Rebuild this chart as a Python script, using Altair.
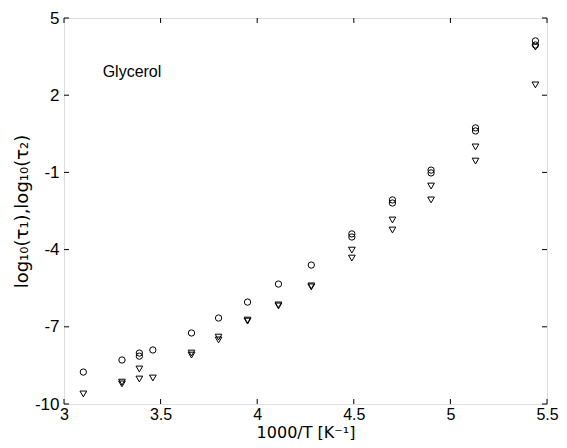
import altair as alt
import pandas as pd

# tau1 (circles)
circle_x = [3.10, 3.30, 3.39, 3.39, 3.46, 3.66, 3.80, 3.95, 4.11, 4.28, 4.49, 4.49, 4.70, 4.70, 4.90, 4.90, 5.13, 5.13, 5.44, 5.44]
circle_y = [-8.76, -8.29, -8.02, -8.14, -7.90, -7.24, -6.66, -6.04, -5.34, -4.60, -3.39, -3.51, -2.07, -2.19, -0.91, -1.02, 0.73, 0.61, 4.11, 3.95]
# tau2 (triangles)
tri_x = [3.10, 3.30, 3.30, 3.39, 3.39, 3.46, 3.66, 3.66, 3.80, 3.80, 3.95, 3.95, 4.11, 4.11, 4.28, 4.28, 4.49, 4.49, 4.70, 4.70, 4.90, 4.90, 5.13, 5.13, 5.44, 5.44]
tri_y = [-9.61, -9.15, -9.22, -8.64, -9.03, -8.99, -8.02, -8.10, -7.40, -7.51, -6.74, -6.78, -6.15, -6.19, -5.41, -5.45, -4.02, -4.33, -2.85, -3.24, -1.53, -2.07, -0.01, -0.56, 3.87, 2.40]

x_ticks = [3, 3.5, 4, 4.5, 5, 5.5]
y_ticks = [-10, -7, -4, -1, 2, 5]
label_text = ["Glycerol"]
label_x = [3.2]
label_y = [2.9]

W, H = 483, 386
FONT = "Liberation Sans"
TFONT = "DejaVu Sans"

xs = alt.Scale(domain=[3, 5.5], nice=False, zero=False)
ys = alt.Scale(domain=[-10, 5], nice=False, zero=False)

circ_df = pd.DataFrame({"x": circle_x, "y": circle_y})
tri_df = pd.DataFrame({"x": tri_x, "y": tri_y})
xt_df = pd.DataFrame({"v": x_ticks})
yt_df = pd.DataFrame({"v": y_ticks})
lab_df = pd.DataFrame({"t": label_text, "x": label_x, "y": label_y})

x_axis = alt.Axis(values=x_ticks, ticks=False, domain=False, grid=False, labelFont=FONT,
                  labelFontSize=16, labelColor="black", labelPadding=2, labelFlush=False,
                  labelExpr="datum.value + ''",
                  title="1000/T [K⁻¹]", titleFont=TFONT, titleFontSize=16,
                  titleFontWeight="normal", titleColor="black", titlePadding=2)
y_axis = alt.Axis(values=y_ticks, ticks=False, domain=False, grid=False, labelFont=FONT,
                  labelFontSize=17, labelColor="black", labelPadding=5, labelFlush=False,
                  labelExpr="datum.value + ''",
                  title="log₁₀(τ₁),log₁₀(τ₂)", titleFont=TFONT, titleFontSize=18,
                  titleFontWeight="normal", titleColor="black", titlePadding=3)

circles = alt.Chart(circ_df).mark_point(shape="circle", size=40, filled=False,
                                        color="black", strokeWidth=1, opacity=1).encode(
    x=alt.X("x:Q", scale=xs, axis=x_axis),
    y=alt.Y("y:Q", scale=ys, axis=y_axis),
)
tris = alt.Chart(tri_df).mark_point(shape="triangle-down", size=45, filled=False,
                                     color="black", strokeWidth=1, opacity=1).encode(
    x=alt.X("x:Q", scale=xs),
    y=alt.Y("y:Q", scale=ys),
)

tick_len = 5
xb = alt.Chart(xt_df).mark_rule(color="black", strokeWidth=1).encode(
    x=alt.X("v:Q", scale=xs), y=alt.value(H), y2=alt.value(H - tick_len))
xt = alt.Chart(xt_df).mark_rule(color="black", strokeWidth=1).encode(
    x=alt.X("v:Q", scale=xs), y=alt.value(0), y2=alt.value(tick_len))
yl = alt.Chart(yt_df).mark_rule(color="black", strokeWidth=1).encode(
    y=alt.Y("v:Q", scale=ys), x=alt.value(0), x2=alt.value(tick_len))
yr = alt.Chart(yt_df).mark_rule(color="black", strokeWidth=1).encode(
    y=alt.Y("v:Q", scale=ys), x=alt.value(W), x2=alt.value(W - tick_len))

label = alt.Chart(lab_df).mark_text(align="left", baseline="middle", font=FONT,
                                    fontSize=16, color="black").encode(
    x=alt.X("x:Q", scale=xs), y=alt.Y("y:Q", scale=ys), text="t:N")

chart = alt.layer(xb, xt, yl, yr, circles, tris, label).properties(
    width=W, height=H,
    autosize=alt.AutoSizeParams(type="none"),
    padding={"left": 56, "top": 10, "right": 12, "bottom": 36},
).configure_view(stroke="black", strokeWidth=1.2).configure(background="white")

chart.save("out.html", embed_options={"renderer": "svg", "actions": False})
